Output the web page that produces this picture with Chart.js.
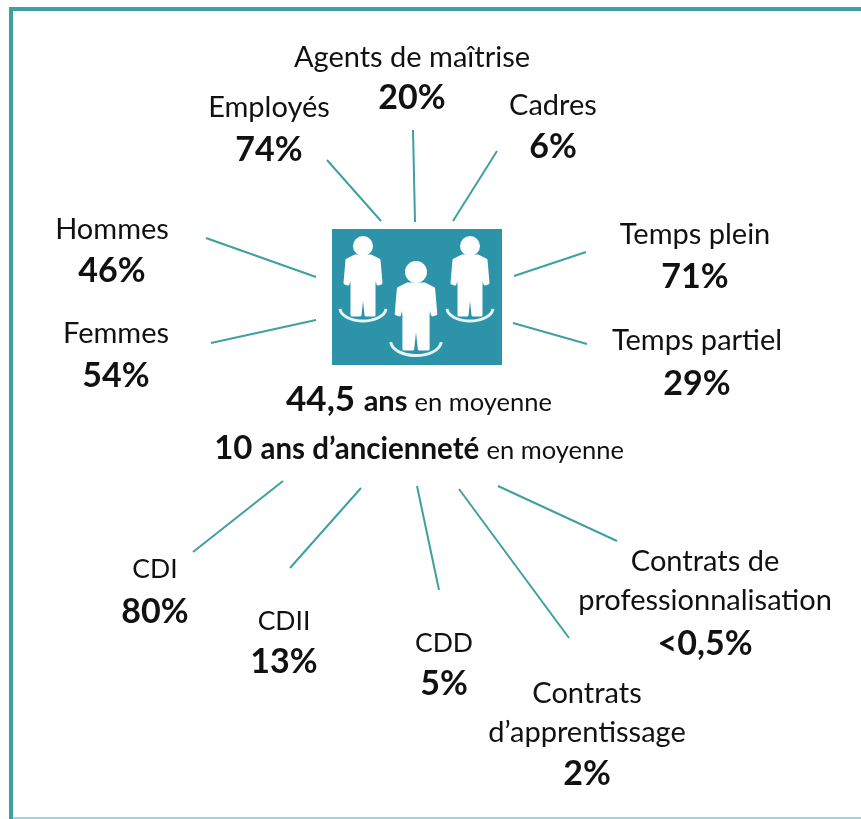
<!DOCTYPE html>
<html>
<head>
<meta charset="utf-8">
<style>
html, body { margin: 0; padding: 0; background: #fff; }
canvas { display: block; }
</style>
</head>
<body>
<canvas id="profileChart" width="861" height="819"></canvas>
<script src="https://cdn.jsdelivr.net/npm/chart.js@4/dist/chart.umd.min.js"></script>
<script>
// Values
const categories = ['Employés', 'Agents de maîtrise', 'Cadres', 'Temps plein', 'Temps partiel', 'Hommes', 'Femmes',
    'CDI', 'CDII', 'CDD', "Contrats\nd’apprentissage", 'Contrats de\nprofessionnalisation'];
const valueLabels = ['74%', '20%', '6%', '71%', '29%', '46%', '54%', '80%', '13%', '5%', '2%', '<0,5%'];

// Where each label sits (centre of first line, centre of value)
const labelX = [269, 412, 553, 695, 697, 112, 116, 155, 284, 444, 587, 705];
const labelY = [107, 57, 105, 234, 340, 229, 333, 568, 620, 642, 693, 561];
const valueY = [149, 97, 146, 276, 383, 270, 375, 611, 661, 683, 773, 643];

// Spokes going out from the icon
const spokeInnerX = [381, 415, 453, 514, 513, 316, 316, 283, 361, 417, 459, 498];
const spokeInnerY = [221, 222, 221, 276, 323, 277, 320, 481, 488, 486, 489, 486];
const spokeOuterX = [327, 413, 497, 586, 587, 206, 211, 193, 290, 439, 569, 617];
const spokeOuterY = [160, 130, 151, 252, 344, 238, 343, 552, 568, 590, 638, 541];

// Icon figures
const figureX = [363, 416, 470];
const figureHeadY = [246, 272, 246];
const figureNeckY = [255, 283, 255];
const figureScale = [1, 1.1, 1];

const TEAL = '#3f9fa3';
const ICON = '#2c93a8';
const FONT = 'Lato, "Open Sans", sans-serif';
const TEXT = '#111';

const spokeSets = categories.map((name, i) => ({
    label: name,
    data: [{ x: spokeInnerX[i], y: spokeInnerY[i] }, { x: spokeOuterX[i], y: spokeOuterY[i] }],
    showLine: true,
    borderColor: TEAL,
    borderWidth: 2,
    pointRadius: 0
}));

function drawFigure(ctx, x, head, neck, s) {
    ctx.fillStyle = '#fff';
    ctx.strokeStyle = '#fff';
    ctx.beginPath();
    ctx.arc(x, head, 10 * s, 0, Math.PI * 2);
    ctx.fill();
    const pts = [[-8, 1], [8, 1], [16, 5], [18, 28], [15, 29], [12, 16], [11, 30], [11, 60], [3, 60], [0, 32],
        [-3, 60], [-11, 60], [-11, 30], [-12, 16], [-15, 29], [-18, 28], [-16, 5]];
    ctx.lineWidth = 3;
    ctx.lineJoin = 'round';
    ctx.beginPath();
    pts.forEach((p, i) => {
        if (i === 0) ctx.moveTo(x + p[0] * s, neck + p[1] * s);
        else ctx.lineTo(x + p[0] * s, neck + p[1] * s);
    });
    ctx.closePath();
    ctx.fill();
    ctx.stroke();
    // ring under the feet
    ctx.strokeStyle = '#e4f3f6';
    ctx.lineWidth = 3;
    ctx.beginPath();
    ctx.ellipse(x, neck + 53 * s, 23 * s, 13 * s, 0, 0.02 * Math.PI, 0.98 * Math.PI);
    ctx.stroke();
}

// text runs on one centred line: [text, font]
function drawRuns(ctx, cx, y, runs) {
    let w = 0;
    runs.forEach(r => { ctx.font = r[1]; w += ctx.measureText(r[0]).width; });
    let x = cx - w / 2;
    ctx.textAlign = 'left';
    ctx.textBaseline = 'alphabetic';
    runs.forEach(r => {
        ctx.font = r[1];
        ctx.fillText(r[0], x, y);
        x += ctx.measureText(r[0]).width;
    });
}

const infographic = {
    id: 'infographic',
    beforeDatasetsDraw(chart) {
        const { ctx, scales: { x, y } } = chart;
        ctx.save();
        // frame: no right side in the picture, bottom edge is cut and looks paler
        ctx.strokeStyle = TEAL;
        ctx.lineWidth = 4;
        ctx.beginPath();
        ctx.moveTo(x.getPixelForValue(861), y.getPixelForValue(9));
        ctx.lineTo(x.getPixelForValue(11), y.getPixelForValue(9));
        ctx.lineTo(x.getPixelForValue(11), y.getPixelForValue(819));
        ctx.stroke();
        ctx.strokeStyle = '#9ad8d8';
        ctx.lineWidth = 2;
        ctx.beginPath();
        ctx.moveTo(x.getPixelForValue(13), y.getPixelForValue(818));
        ctx.lineTo(x.getPixelForValue(861), y.getPixelForValue(818));
        ctx.stroke();
        // icon
        ctx.fillStyle = ICON;
        ctx.fillRect(x.getPixelForValue(332), y.getPixelForValue(229), 170, 136);
        figureX.forEach((fx, i) => {
            drawFigure(ctx, x.getPixelForValue(fx), y.getPixelForValue(figureHeadY[i]), y.getPixelForValue(figureNeckY[i]), figureScale[i]);
        });
        ctx.restore();
    },
    afterDatasetsDraw(chart) {
        const { ctx, scales: { x, y } } = chart;
        ctx.save();
        ctx.fillStyle = TEXT;
        ctx.textAlign = 'center';
        ctx.textBaseline = 'middle';
        categories.forEach((name, i) => {
            const px = x.getPixelForValue(labelX[i]);
            // Lato capitals run wider than the original face
            ctx.font = (/^CD/.test(name) ? '26.5px ' : '29px ') + FONT;
            name.split('\n').forEach((line, k) => {
                ctx.fillText(line, px, y.getPixelForValue(labelY[i]) + 1 + k * 39);
            });
            ctx.font = 'bold 34px ' + FONT;
            ctx.fillText(valueLabels[i], px, y.getPixelForValue(valueY[i]) + 1);
        });
        drawRuns(ctx, x.getPixelForValue(419), y.getPixelForValue(411), [
            ['44,5 ', 'bold 35px ' + FONT], ['ans ', 'bold 29px ' + FONT], ['en moyenne', '25.5px ' + FONT]]);
        drawRuns(ctx, x.getPixelForValue(419), y.getPixelForValue(459), [
            ['10 ', 'bold 33px ' + FONT], ['ans d’ancienneté ', 'bold 29.5px ' + FONT], ['en moyenne', '25.5px ' + FONT]]);
        ctx.restore();
    }
};

const chart = new Chart(document.getElementById('profileChart').getContext('2d'), {
    type: 'scatter',
    data: { datasets: spokeSets },
    options: {
        responsive: false,
        animation: false,
        layout: { padding: 0 },
        plugins: { legend: { display: false }, tooltip: { enabled: false } },
        scales: {
            x: { type: 'linear', display: false, min: 0, max: 861 },
            y: { type: 'linear', display: false, min: 0, max: 819, reverse: true }
        }
    },
    plugins: [infographic]
});
</script>
</body>
</html>
